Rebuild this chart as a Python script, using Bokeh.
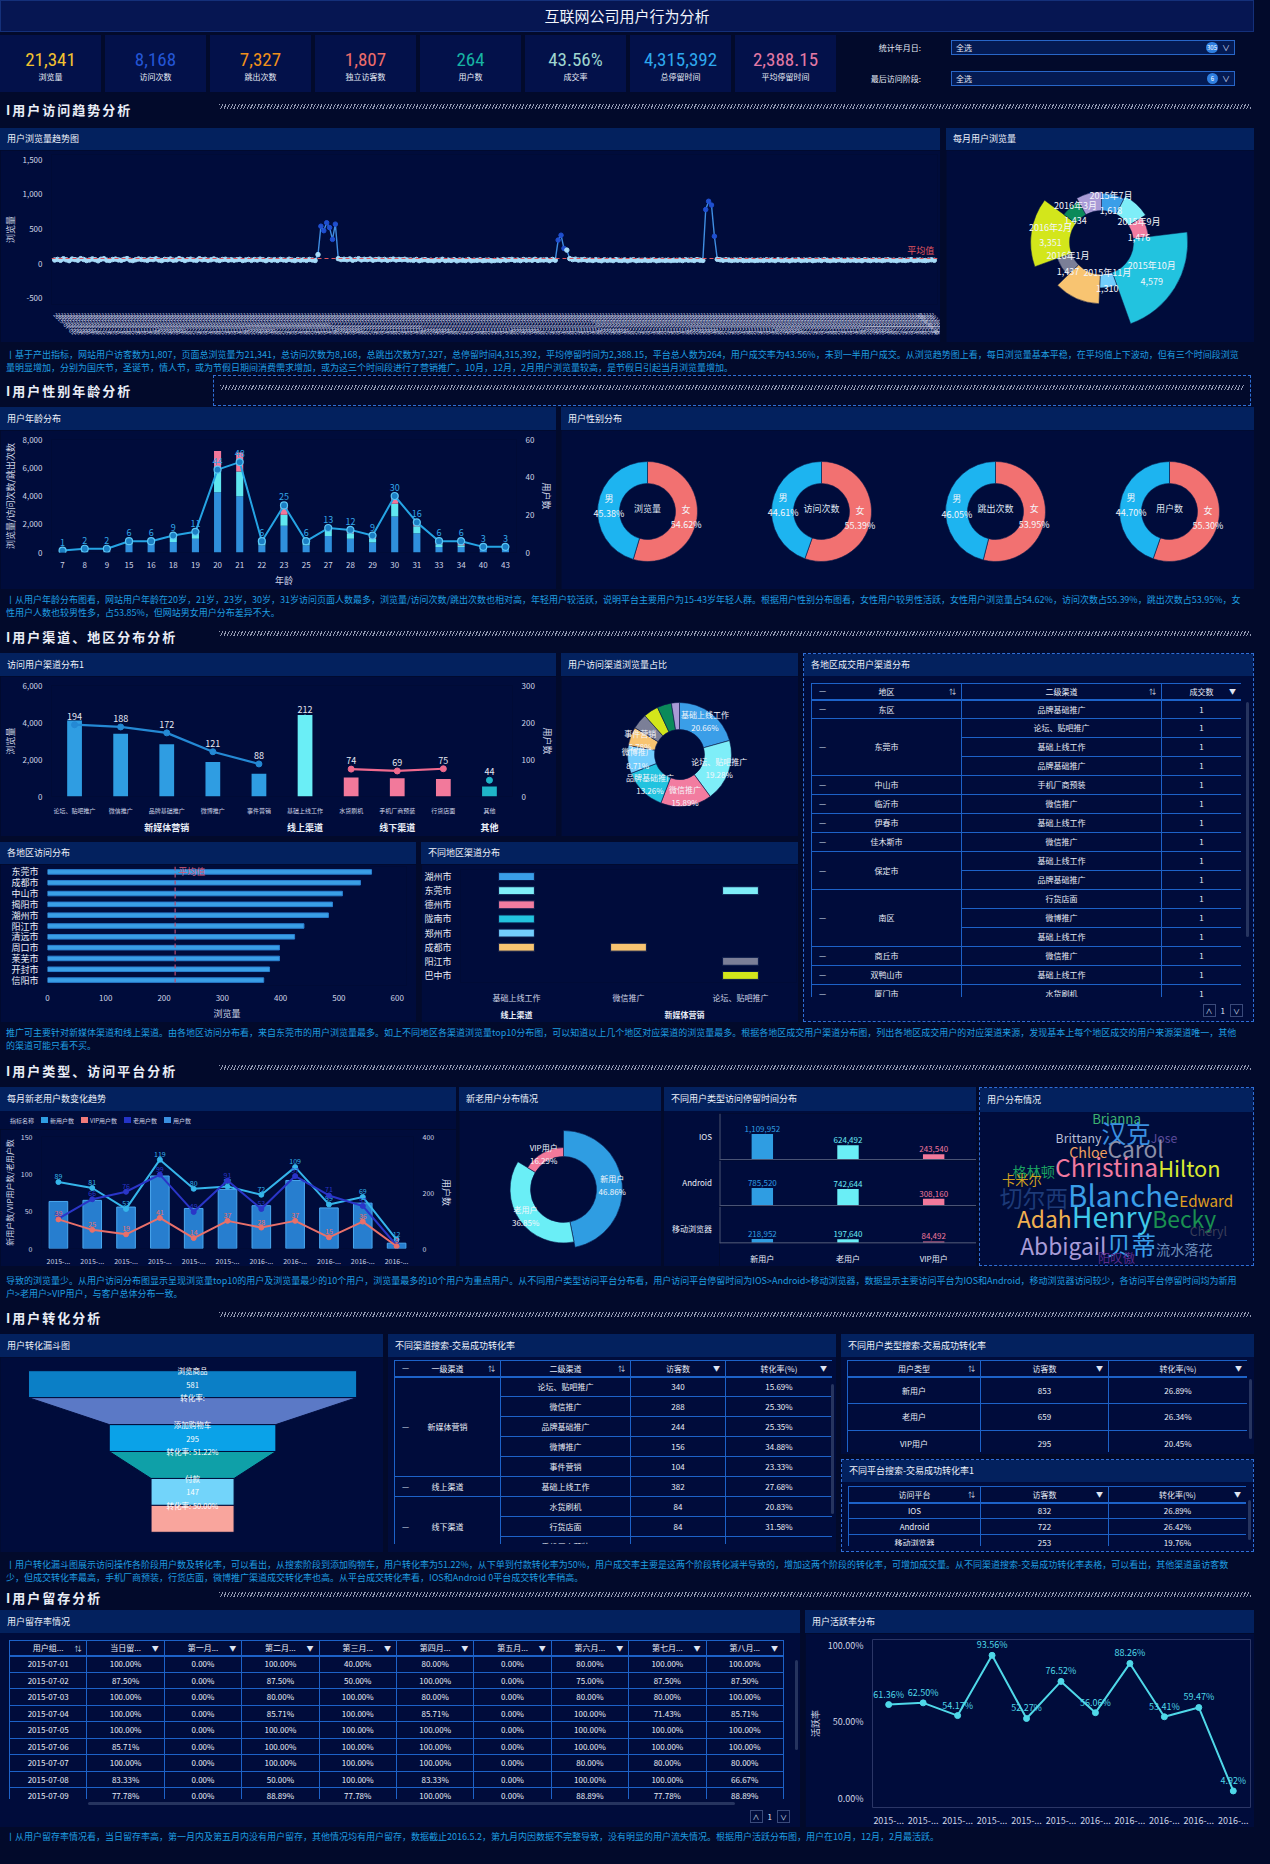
import math
import pandas as pd
from bokeh.plotting import figure
from bokeh.models import (ColumnDataSource, Range1d, FactorRange, LinearAxis, Span,
                          FixedTicker, NumeralTickFormatter, PrintfTickFormatter, Div, Spacer)
from bokeh.models.axes import Axis
from bokeh.layouts import row, column
from bokeh.core.properties import value
from bokeh.embed import file_html
from bokeh.resources import INLINE

# ====================== DATA ======================
dashboard_title = "互联网公司用户行为分析"
kpi_values = ["21,341", "8,168", "7,327", "1,807", "264", "43.56%", "4,315,392", "2,388.15"]
kpi_labels = ["浏览量", "访问次数", "跳出次数", "独立访客数", "用户数", "成交率", "总停留时间", "平均停留时间"]
filter_labels = ["统计年月日:", "最后访问阶段:"]
filter_values = ["全选", "全选"]
filter_counts = ["305", "6"]

section_titles = ["I用户访问趋势分析", "I用户性别年龄分析", "I用户渠道、地区分布分析",
                  "I用户类型、访问平台分析", "I用户转化分析", "I用户留存分析"]

# daily page views (2015-07-01 .. 2016-04-30)
pv_2015_07 = [52, 61, 48, 70, 55, 43, 66, 58, 49, 72, 60, 45, 53, 68, 57, 41, 63, 71, 50, 46, 59, 65, 54, 48, 62, 73, 51, 44, 56, 67, 60]
pv_2015_08 = [55, 47, 63, 58, 69, 52, 44, 61, 57, 66, 49, 53, 72, 60, 45, 58, 64, 51, 47, 70, 56, 62, 48, 55, 67, 53, 46, 59, 63, 50, 57]
pv_2015_09 = [49, 56, 62, 45, 53, 60, 47, 58, 51, 64, 55, 43, 59, 50, 57, 46, 61, 54, 48, 63, 52, 44, 58, 49, 56, 47, 60, 53, 45, 130]
pv_2015_10 = [540, 475, 590, 520, 350, 570, 72, 58, 63, 55, 67, 49, 60, 71, 54, 62, 57, 66, 50, 59, 64, 53, 61, 48, 58, 65, 52, 60, 56, 63, 51]
pv_2015_11 = [54, 47, 60, 43, 52, 58, 45, 50, 41, 55, 48, 62, 44, 51, 46, 57, 40, 53, 49, 45, 58, 42, 50, 47, 55, 43, 49, 52, 41, 46]
pv_2015_12 = [52, 45, 58, 49, 55, 61, 47, 53, 44, 59, 50, 56, 48, 62, 46, 54, 51, 57, 43, 60, 49, 340, 410, 220, 195, 72, 58, 64, 51, 55, 60]
pv_2016_01 = [48, 53, 45, 57, 50, 42, 55, 47, 52, 44, 58, 49, 46, 54, 41, 51, 56, 43, 50, 47, 53, 45, 49, 55, 42, 48, 52, 46, 51, 44, 50]
pv_2016_02 = [47, 52, 44, 56, 49, 53, 45, 58, 50, 46, 780, 900, 845, 395, 62, 55, 48, 57, 51, 46, 53, 49, 56, 44, 50, 47, 52, 45, 49]
pv_2016_03 = [51, 46, 55, 48, 53, 44, 57, 50, 47, 54, 42, 52, 49, 56, 45, 51, 48, 55, 43, 50, 53, 46, 58, 49, 44, 52, 47, 55, 50, 45, 53]
pv_2016_04 = [49, 54, 46, 52, 43, 57, 50, 45, 55, 48, 53, 44, 51, 56, 47, 50, 42, 54, 49, 46, 52, 58, 45, 50, 53, 47, 44, 51, 55, 48]
trend_pv = (pv_2015_07 + pv_2015_08 + pv_2015_09 + pv_2015_10 + pv_2015_11 + pv_2015_12
            + pv_2016_01 + pv_2016_02 + pv_2016_03 + pv_2016_04)
trend_dates = pd.date_range("2015-07-01", periods=len(trend_pv), freq="D").strftime("%Y-%m-%d").tolist()

rose_months = ["2015年7月", "2015年8月", "2015年9月", "2015年10月", "2015年11月", "2015年12月",
               "2016年1月", "2016年2月", "2016年3月", "2016年4月"]
rose_pv = [1618, 1826, 1476, 4579, 1310, 2579, 1437, 3351, 1434, 1731]
rose_labeled = ["2015年7月", "2015年9月", "2015年10月", "2015年11月", "2016年1月", "2016年2月", "2016年3月"]

ages = ["7", "8", "9", "15", "16", "18", "19", "20", "21", "22", "23", "25", "27", "28", "29", "30", "31", "33", "34", "40", "43"]
age_pv = [30, 60, 55, 560, 740, 740, 975, 4270, 3990, 510, 1900, 510, 1160, 975, 700, 2550, 1370, 395, 395, 230, 210]
age_visits = [10, 20, 22, 140, 100, 280, 350, 1510, 1740, 160, 765, 160, 460, 395, 280, 900, 490, 185, 115, 60, 50]
age_bounce = [8, 15, 18, 50, 40, 90, 115, 1410, 1350, 70, 580, 70, 210, 115, 140, 650, 230, 70, 115, 30, 20]
age_users = [1, 2, 2, 6, 6, 9, 11, 44, 48, 6, 25, 6, 13, 12, 9, 30, 16, 6, 6, 3, 3]

gender_metrics = ["浏览量", "访问次数", "跳出次数", "用户数"]
male_pct = [45.38, 44.61, 46.05, 44.70]
female_pct = [54.62, 55.39, 53.95, 55.30]

ch_groups = ["新媒体营销", "新媒体营销", "新媒体营销", "新媒体营销", "新媒体营销", "线上渠道", "线下渠道", "线下渠道", "线下渠道", "其他"]
ch_names = ["论坛、贴吧推广", "微信推广", "品牌基础推广", "微博推广", "事件营销", "基础上线工作", "水货刷机", "手机厂商预装", "行货店面", "其他"]
ch_pv = [4114, 3391, 2830, 1859, 1234, 4409, 1030, 990, 950, 534]
ch_users = [194, 188, 172, 121, 88, 212, 74, 69, 75, 44]

chpie_names = ["基础上线工作", "论坛、贴吧推广", "微信推广", "品牌基础推广", "微博推广", "事件营销", "水货刷机", "手机厂商预装", "行货店面", "其他"]
chpie_pct = [20.66, 19.28, 15.89, 13.26, 8.71, 5.78, 4.83, 4.64, 4.45, 2.50]
chpie_labeled = ["基础上线工作", "论坛、贴吧推广", "微信推广", "品牌基础推广", "微博推广", "事件营销"]

cities = ["东莞市", "成都市", "中山市", "揭阳市", "潮州市", "阳江市", "清远市", "周口市", "莱芜市", "开封市", "信阳市"]
city_pv = [556, 537, 506, 489, 482, 440, 424, 398, 398, 381, 371]
city_avg = 219

rc_cities = ["湖州市", "东莞市", "德州市", "陇南市", "郑州市", "成都市", "阳江市", "巴中市"]
rc_channel_order = ["基础上线工作", "微信推广", "论坛、贴吧推广"]
rc_channel_group = {"基础上线工作": "线上渠道", "微信推广": "新媒体营销", "论坛、贴吧推广": "新媒体营销"}
rc_cell_city = ["湖州市", "东莞市", "东莞市", "德州市", "陇南市", "郑州市", "成都市", "成都市", "阳江市", "巴中市"]
rc_cell_channel = ["基础上线工作", "基础上线工作", "论坛、贴吧推广", "基础上线工作", "基础上线工作",
                   "基础上线工作", "基础上线工作", "微信推广", "论坛、贴吧推广", "论坛、贴吧推广"]

regions = ["东区", "东莞市", "中山市", "临沂市", "伊春市", "佳木斯市", "保定市", "南区", "商丘市", "双鸭山市", "厦门市"]
region_channels = [["品牌基础推广"], ["论坛、贴吧推广", "基础上线工作", "品牌基础推广"], ["手机厂商预装"], ["微信推广"],
                   ["基础上线工作"], ["微信推广"], ["基础上线工作", "品牌基础推广"], ["行货店面", "微博推广", "基础上线工作"],
                   ["微信推广"], ["基础上线工作"], ["水货刷机"]]
region_deals = [[1], [1, 1, 1], [1], [1], [1], [1], [1, 1], [1, 1, 1], [1], [1], [1]]

months = ["2015-07", "2015-08", "2015-09", "2015-10", "2015-11", "2015-12", "2016-01", "2016-02", "2016-03", "2016-04", "2016-05"]
new_users = [89, 81, 53, 119, 80, 83, 72, 109, 59, 69, 12]
old_users = [40, 66, 76, 99, 49, 91, 53, 97, 71, 57, 4]
vip_users = [39, 25, 19, 41, 14, 37, 28, 37, 15, 36, 3]
all_users = [168, 172, 148, 259, 143, 211, 153, 243, 145, 162, 19]

no_types = ["新用户", "老用户", "VIP用户"]
no_pct = [46.86, 36.85, 16.29]

plat_names = ["IOS", "Android", "移动浏览器"]
plat_types = ["新用户", "老用户", "VIP用户"]
plat_stay = [[1109952, 624492, 243540], [785520, 742644, 308160], [218952, 197640, 84492]]

wc_words = ["Brianna", "Brittany", "汉克", "Jose", "Chloe", "Carol", "格林顿", "Christina", "Hilton", "卡米尔",
            "切尔西", "Blanche", "Edward", "Adah", "Henry", "Becky", "Cheryl", "Abbigail", "贝蒂", "流水落花", "阳叹傲"]
wc_weights = [14, 13, 26, 13, 15, 24, 15, 26, 23, 14, 24, 31, 16, 24, 30, 24, 13, 24, 26, 15, 13]

funnel_stages = ["浏览商品", "添加购物车", "付款"]
funnel_values = [581, 295, 147]
funnel_rates = ["", "51.22%", "50.00%"]

conv_l1 = ["新媒体营销", "线上渠道", "线下渠道"]
conv_l2 = [["论坛、贴吧推广", "微信推广", "品牌基础推广", "微博推广", "事件营销"], ["基础上线工作"], ["水货刷机", "行货店面", "手机厂商预装"]]
conv_visitors = [[340, 288, 244, 156, 104], [382], [84, 84, 69]]
conv_rate = [[15.69, 25.30, 25.35, 34.88, 23.33], [27.68], [20.83, 31.58, 33.33]]

ut_types = ["新用户", "老用户", "VIP用户"]
ut_visitors = [853, 659, 295]
ut_rate = [26.89, 26.34, 20.45]

pf_names = ["IOS", "Android", "移动浏览器"]
pf_visitors = [832, 722, 253]
pf_rate = [26.89, 26.42, 19.76]

ret_headers = ["用户组...", "当日留...", "第一月...", "第二月...", "第三月...", "第四月...", "第五月...", "第六月...", "第七月...", "第八月..."]
ret_cohorts = ["2015-07-01", "2015-07-02", "2015-07-03", "2015-07-04", "2015-07-05", "2015-07-06", "2015-07-07", "2015-07-08", "2015-07-09"]
ret_day0 = [100.0, 87.5, 100.0, 100.0, 100.0, 85.71, 100.0, 83.33, 77.78]
ret_m1 = [0.0, 0.0, 0.0, 0.0, 0.0, 0.0, 0.0, 0.0, 0.0]
ret_m2 = [100.0, 87.5, 80.0, 85.71, 100.0, 100.0, 100.0, 50.0, 88.89]
ret_m3 = [40.0, 50.0, 100.0, 100.0, 100.0, 100.0, 100.0, 100.0, 77.78]
ret_m4 = [80.0, 100.0, 80.0, 85.71, 100.0, 100.0, 100.0, 83.33, 100.0]
ret_m5 = [0.0, 0.0, 0.0, 0.0, 0.0, 0.0, 0.0, 0.0, 0.0]
ret_m6 = [80.0, 75.0, 80.0, 100.0, 100.0, 100.0, 80.0, 100.0, 88.89]
ret_m7 = [100.0, 87.5, 80.0, 71.43, 100.0, 100.0, 80.0, 100.0, 77.78]
ret_m8 = [100.0, 87.5, 100.0, 85.71, 100.0, 100.0, 80.0, 66.67, 88.89]

act_months = months
act_rate = [61.36, 62.50, 54.17, 93.56, 52.27, 76.52, 56.06, 88.26, 53.41, 59.47, 4.92]

desc_texts = [
    "丨基于产出指标，网站用户访客数为1,807，页面总浏览量为21,341，总访问次数为8,168，总跳出次数为7,327，总停留时间4,315,392，平均停留时间为2,388.15，平台总人数为264，用户成交率为43.56%，未到一半用户成交。从浏览趋势图上看，每日浏览量基本平稳，在平均值上下波动，但有三个时间段浏览量明显增加，分别为国庆节，圣诞节，情人节，或为节假日期间消费需求增加，或为这三个时间段进行了营销推广。10月，12月，2月用户浏览量较高，是节假日引起当月浏览量增加。",
    "丨从用户年龄分布图看，网站用户年龄在20岁，21岁，23岁，30岁，31岁访问页面人数最多，浏览量/访问次数/跳出次数也相对高，年轻用户较活跃，说明平台主要用户为15-43岁年轻人群。根据用户性别分布图看，女性用户较男性活跃，女性用户浏览量占54.62%，访问次数占55.39%，跳出次数占53.95%，女性用户人数也较男性多，占53.85%，但网站男女用户分布差异不大。",
    "推广可主要针对新媒体渠道和线上渠道。由各地区访问分布看，来自东莞市的用户浏览量最多。如上不同地区各渠道浏览量top10分布图，可以知道以上几个地区对应渠道的浏览量最多。根据各地区成交用户渠道分布图，列出各地区成交用户的对应渠道来源，发现基本上每个地区成交的用户来源渠道唯一，其他的渠道可能只看不买。",
    "导致的浏览量少。从用户访问分布图显示呈现浏览量top10的用户及浏览量最少的10个用户，浏览量最多的10个用户为重点用户。从不同用户类型访问平台分布看，用户访问平台停留时间为IOS>Android>移动浏览器，数据显示主要访问平台为IOS和Android，移动浏览器访问较少，各访问平台停留时间均为新用户>老用户>VIP用户，与客户总体分布一致。",
    "丨用户转化漏斗图展示访问操作各阶段用户数及转化率，可以看出，从搜索阶段到添加购物车，用户转化率为51.22%，从下单到付款转化率为50%，用户成交率主要是这两个阶段转化减半导致的，增加这两个阶段的转化率，可增加成交量。从不同渠道搜索-交易成功转化率表格，可以看出，其他渠道虽访客数少，但成交转化率最高，手机厂商预装，行货店面，微博推广渠道成交转化率也高。从平台成交转化率看，IOS和Android 0平台成交转化率稍高。",
    "丨从用户留存率情况看，当日留存率高，第一月内及第五月内没有用户留存，其他情况均有用户留存，数据截止2016.5.2，第九月内因数据不完整导致，没有明显的用户流失情况。根据用户活跃分布图，用户在10月，12月，2月最活跃。",
]

# ====================== STYLE ======================
FONT = "Noto Sans CJK SC"
FF = "font-family:'Noto Sans CJK SC'"
NFF = "font-family:'Liberation Sans Narrow','Roboto Condensed','Roboto',sans-serif"
PAGE_BG = "#020a2b"
BODY_BG = "#000c3b"
HEAD_BG = "#03215e"
KPI_BG = "#03114a"
TXT = "#e8edf7"
AXT = "#cfd5e6"
DESC_C = "#1f9ee0"
PALETTE = ["#3a9ee8", "#7eeef8", "#f27ca0", "#22c3df", "#72cdfd", "#f8c471", "#7b7f97", "#d3e61b", "#0b8a5a", "#a99bd6"]
KPI_COLORS = ["#f2c230", "#2456d6", "#f0901a", "#ee6d6a", "#17b3a3", "#9fd6cf", "#2ea8ee", "#e47aa6"]
WC_COLORS = ["#3cb371", "#b9bfd6", "#3a8fe0", "#5a4a9a", "#f0a060", "#8a8fa8", "#1aa060", "#f07aa0", "#d8e830", "#d0a020",
             "#1d3a78", "#3a9ee8", "#e0a020", "#f0b050", "#40c8e8", "#1a9050", "#3a3f5a", "#a89cd8", "#3a9ee8", "#6a8ab8", "#5a2a8a"]
W = 1254


def esc(s):
    return s.replace("&", "&amp;").replace("<", "&lt;").replace(">", "&gt;")


def mkdiv(html, w, h, bg=None):
    st = {"overflow": "hidden"}
    if bg:
        st["background-color"] = bg
    return Div(text=html, width=w, height=h, styles=st, margin=0)


def head(title, w, h):
    return mkdiv(f'<div style="height:{h}px;line-height:{h}px;padding-left:7px;color:#eef2fa;font-size:9px;{FF};white-space:nowrap">{title}</div>', w, h, HEAD_BG)


def mkfig(w, h, **kw):
    opts = dict(width=w, height=h, output_backend="svg", toolbar_location=None,
                background_fill_color=BODY_BG, border_fill_color=BODY_BG, outline_line_color=None,
                min_border_left=0, min_border_right=0, min_border_top=0, min_border_bottom=0)
    opts.update(kw)
    p = figure(**opts)
    p.grid.visible = False
    return p


def style_axes(p, size="8px"):
    for ax in list(p.left) + list(p.right) + list(p.below) + list(p.above):
        if not isinstance(ax, Axis):
            continue
        ax.axis_line_color = None
        ax.major_tick_line_color = None
        ax.minor_tick_line_color = None
        ax.major_label_text_color = AXT
        ax.major_label_text_font_size = size
        ax.major_label_text_font = FONT
        ax.major_label_standoff = 3
        ax.axis_label_text_color = AXT
        ax.axis_label_text_font_size = "9px"
        ax.axis_label_text_font = FONT
        ax.axis_label_text_font_style = "normal"
        ax.axis_label_standoff = 3


def txt(p, **kw):
    base = dict(text_font=value(FONT), text_font_size="8px", text_color=TXT,
                text_align="center", text_baseline="middle")
    base.update(kw)
    return p.text(**base)


def section(title, h, dashed=False):
    mid = h // 2
    hb = "repeating-linear-gradient(115deg,#9097b0 0px,#9097b0 1px,rgba(0,0,0,0) 1px,rgba(0,0,0,0) 3px)"
    if dashed:
        deco = (f'<div style="position:absolute;left:213px;right:3px;top:1px;bottom:1px;border:1px dashed #2f6fd6">'
                f'<div style="position:absolute;left:6px;right:6px;top:{mid - 7}px;height:5px;background:{hb}"></div></div>')
    else:
        deco = f'<div style="position:absolute;left:219px;right:3px;top:{mid - 6}px;height:5px;background:{hb}"></div>'
    html = (f'<div style="position:relative;width:{W}px;height:{h}px">'
            f'<div style="position:absolute;left:6px;top:0;line-height:{h}px;{FF};font-size:13px;font-weight:bold;letter-spacing:2px;color:#e9edf6;white-space:nowrap">{title}</div>'
            f'{deco}</div>')
    return mkdiv(html, W, h)


def desc(text, h, pad):
    html = f'<div style="padding:{pad}px 12px 0 6px;{FF};font-size:9px;line-height:13px;color:{DESC_C}">{esc(text)}</div>'
    return mkdiv(html, W, h)


def panel_div(title, inner, w, h, head_h=23, dashed=False):
    border = "border:1px dashed #2f6fd6;" if dashed else ""
    html = (f'<div style="box-sizing:border-box;position:relative;width:{w}px;height:{h}px;background:{BODY_BG};{border}{FF}">'
            f'<div style="height:{head_h}px;line-height:{head_h}px;background:{HEAD_BG};color:#eef2fa;font-size:9px;padding-left:7px;white-space:nowrap">{title}</div>'
            f'{inner}</div>')
    return mkdiv(html, w, h)


TCSS = ('<style>.t{border-collapse:collapse;table-layout:fixed;' + FF + ';font-size:8px;color:#e8edf7}'
        '.t td,.t th{border:1px solid #1d62c8;text-align:center;padding:0;white-space:nowrap;overflow:hidden;font-weight:normal;position:relative}'
        '.t th{border-bottom:2px solid #1d62c8}'
        '.ic{position:absolute;right:5px;top:50%;transform:translateY(-50%);font-size:7px;color:#dfe5f3}'
        '.mn{position:absolute;left:7px;top:50%;transform:translateY(-50%);color:#dfe5f3;font-size:8px}</style>')

BOXSTYLE = 'display:inline-block;width:13px;height:13px;border:1px solid #3a4a7a;text-align:center;line-height:12px;font-size:7px'
PAGER = (f'<div style="position:absolute;right:10px;bottom:4px;display:flex;align-items:center;gap:5px;font-size:8px;color:#dfe5f3">'
         f'<span style="{BOXSTYLE}">∧</span>1<span style="{BOXSTYLE}">∨</span></div>')


def vscroll(right, top, h):
    return f'<div style="position:absolute;right:{right}px;top:{top}px;width:3px;height:{h}px;border-radius:2px;background:#26345f"></div>'


def colgroup(widths):
    return '<colgroup>' + ''.join(f'<col style="width:{w}px">' for w in widths) + '</colgroup>'


# ====================== HEADER ======================
title_div = mkdiv(f'<div style="box-sizing:border-box;width:{W}px;height:32px;line-height:30px;text-align:center;background:#061652;border:1px solid #14307a;color:#f2f5fb;{FF};font-size:15px">{dashboard_title}</div>', W, 32)

kpi_divs = []
for v, l, c in zip(kpi_values, kpi_labels, KPI_COLORS):
    kpi_divs.append(mkdiv(
        f'<div style="width:101px;height:57px;text-align:center;background:{KPI_BG}">'
        f'<div style="padding-top:14px;{NFF};font-size:19px;line-height:22px;color:{c}">{v}</div>'
        f'<div style="{FF};font-size:8px;line-height:12px;color:{TXT}">{l}</div></div>', 101, 57))

fparts = []
for i, (lab, val, cnt) in enumerate(zip(filter_labels, filter_values, filter_counts)):
    top = 5 + i * 31
    fparts.append(
        f'<div style="position:absolute;left:0;top:{top}px;width:81px;height:15px;line-height:15px;text-align:right;font-size:8px;color:{TXT}">{lab}</div>'
        f'<div style="position:absolute;left:111px;top:{top}px;width:284px;height:15px;box-sizing:border-box;border:1px solid #2866c8;background:#041a52;line-height:13px;font-size:8px;color:{TXT};padding-left:4px">{val}'
        f'<span style="position:absolute;right:16px;top:1px;min-width:11px;height:11px;border-radius:6px;background:#2f7fe0;color:#fff;font-size:6px;line-height:11px;text-align:center;padding:0 1px">{cnt}</span>'
        f'<span style="position:absolute;right:4px;top:0;font-size:8px;color:#cfd8ee">∨</span></div>')
filter_w = W - 8 * 101 - 8 * 4
filter_div = mkdiv(f'<div style="position:relative;width:{filter_w}px;height:57px;{FF}">' + ''.join(fparts) + '</div>', filter_w, 57)
kpi_row = row(*kpi_divs, filter_div, spacing=4)

# ====================== ROW 1 ======================
trend_avg = sum(trend_pv) / len(trend_pv)
tsrc = ColumnDataSource(dict(d=trend_dates, v=trend_pv, c=["#1f4fd0" if v > 200 else "#a6dbf8" for v in trend_pv]))
tp = mkfig(940, 192, x_range=FactorRange(factors=trend_dates, range_padding=0.004), y_range=Range1d(-590, 1575),
           min_border_left=45, min_border_right=3, min_border_top=4, min_border_bottom=38)
tp.line("d", "v", source=tsrc, line_color="#3f8ee2", line_width=1.4)
tp.scatter("d", "v", source=tsrc, size=4.5, fill_color="c", line_color="c")
tp.add_layout(Span(location=trend_avg, dimension="width", line_color="#e0575f", line_dash="4 3", line_width=1.2))
txt(tp, x=[trend_dates[-1]], y=[trend_avg], text=["平均值"], text_color="#e0575f", text_align="right",
    text_baseline="bottom", text_font_size="9px", y_offset=-1)
tp.yaxis.ticker = FixedTicker(ticks=[-500, 0, 500, 1000, 1500])
tp.yaxis.formatter = NumeralTickFormatter(format="0,0")
tp.yaxis.axis_label = "浏览量"
style_axes(tp)
tp.xaxis.major_label_orientation = -math.pi / 4
tp.xaxis.major_label_text_font_size = "5.5px"
tp.xaxis.major_label_text_color = "#c8cde0"

rp = mkfig(308, 192, x_range=Range1d(-155, 153), y_range=Range1d(-100, 92), x_axis_location=None, y_axis_location=None)
tot = float(sum(rose_pv))
cum = 0.0
r_a0, r_a1, r_out, r_col, lx, ly, lt = [], [], [], [], [], [], []
for i, (m, v) in enumerate(zip(rose_months, rose_pv)):
    a1 = math.pi / 2 - 2 * math.pi * cum / tot
    a0 = math.pi / 2 - 2 * math.pi * (cum + v) / tot
    cum += v
    ro = 29 + 0.0125 * v
    r_a0.append(a0); r_a1.append(a1); r_out.append(ro); r_col.append(PALETTE[i % len(PALETTE)])
    if m in rose_labeled:
        mid = (a0 + a1) / 2
        rr = (32 + ro) / 2
        lx.append(rr * math.cos(mid)); ly.append(rr * math.sin(mid)); lt.append(f"{m}\n{v:,}")
rp.annular_wedge(x=0, y=0, inner_radius=32, outer_radius="r", start_angle="a0", end_angle="a1",
                 fill_color="c", line_color="#0a1a4a", line_width=0.5,
                 source=ColumnDataSource(dict(r=r_out, a0=r_a0, a1=r_a1, c=r_col)))
txt(rp, x=lx, y=ly, text=lt, text_font_size="9px", text_color="#f4f6fb")

row1 = row(column(head("用户浏览量趋势图", 940, 22), tp), column(head("每月用户浏览量", 308, 22), rp), spacing=6)

# ====================== ROW 2 ======================
asrc = ColumnDataSource(dict(age=ages, pv=age_pv, visits=age_visits, bounce=age_bounce, users=age_users,
                             ut=[str(u) for u in age_users]))
ap = mkfig(556, 159, x_range=FactorRange(factors=ages), y_range=Range1d(0, 8000),
           min_border_left=44, min_border_right=29, min_border_top=9, min_border_bottom=35)
ap.extra_y_ranges = {"u": Range1d(0, 60)}
ap.add_layout(LinearAxis(y_range_name="u", axis_label="用户数", ticker=FixedTicker(ticks=[0, 20, 40, 60])), "right")
ap.vbar_stack(["pv", "visits", "bounce"], x="age", width=0.32, color=["#2f8fdc", "#5fe6f0", "#f2779a"],
              line_color=None, source=asrc)
ap.line("age", "users", source=asrc, y_range_name="u", line_color="#25a4e4", line_width=2)
ap.scatter("age", "users", source=asrc, y_range_name="u", size=7, fill_color="#1b7fc4", line_color="#5cc6f5", line_width=1.2)
txt(ap, x="age", y="users", text="ut", source=asrc, y_range_name="u", text_color="#33a7e8",
    text_baseline="bottom", y_offset=-5, text_font_size="9px")
ap.yaxis[0].ticker = FixedTicker(ticks=[0, 2000, 4000, 6000, 8000])
ap.yaxis[0].formatter = NumeralTickFormatter(format="0,0")
ap.yaxis[0].axis_label = "浏览量/访问次数/跳出次数"
ap.xaxis.axis_label = "年龄"
style_axes(ap)

gp = mkfig(693, 159, x_range=Range1d(0, 693), y_range=Range1d(0, 159), x_axis_location=None, y_axis_location=None)
for i, (mname, mp, fp) in enumerate(zip(gender_metrics, male_pct, female_pct)):
    cx, cy = 86 + i * 174, 78
    f_start = math.pi / 2 - 2 * math.pi * fp / 100.0
    f_end = math.pi / 2
    m_start = f_start - 2 * math.pi * mp / 100.0
    gp.annular_wedge(x=[cx, cx], y=[cy, cy], inner_radius=28, outer_radius=50,
                     start_angle=[f_start, m_start], end_angle=[f_end, f_start],
                     fill_color=["#f27171", "#1db4f0"], line_color="#0a1a4a", line_width=0.6)
    fm = (f_start + f_end) / 2
    mm = (m_start + f_start) / 2
    txt(gp, x=[cx + 39 * math.cos(fm), cx + 39 * math.cos(mm)], y=[cy + 39 * math.sin(fm), cy + 39 * math.sin(mm)],
        text=[f"女\n{fp:.2f}%", f"男\n{mp:.2f}%"], text_font_size="9px", text_color="#f4f6fb")
    txt(gp, x=[cx], y=[cy + 3], text=[mname], text_font_size="9px", text_color="#dfe4f0")

row2 = row(column(head("用户年龄分布", 556, 23), ap), column(head("用户性别分布", 693, 23), gp), spacing=5)

# ====================== ROW 3 ======================
ch_factors = list(zip(ch_groups, ch_names))
grp_color = {"新媒体营销": "#2f9de2", "线上渠道": "#6aeef6", "线下渠道": "#f2799b", "其他": "#1fb5c8"}
grp_line = {"新媒体营销": "#2489d4", "线上渠道": "#6aeef6", "线下渠道": "#f06a8e", "其他": "#1fb5c8"}
cp = mkfig(556, 160, x_range=FactorRange(factors=ch_factors, group_padding=0, factor_padding=0, subgroup_padding=0, range_padding=0),
           y_range=Range1d(0, 6000), min_border_left=44, min_border_right=32, min_border_top=9, min_border_bottom=31)
cp.extra_y_ranges = {"u": Range1d(0, 300)}
cp.add_layout(LinearAxis(y_range_name="u", axis_label="用户数", ticker=FixedTicker(ticks=[0, 100, 200, 300])), "right")
csrc = ColumnDataSource(dict(x=ch_factors, pv=ch_pv, u=ch_users, ut=[str(u) for u in ch_users],
                             c=[grp_color[g] for g in ch_groups], lc=[grp_line[g] for g in ch_groups]))
cp.vbar(x="x", top="pv", width=0.32, fill_color="c", line_color=None, source=csrc)
for g in dict.fromkeys(ch_groups):
    idx = [i for i, gg in enumerate(ch_groups) if gg == g]
    if len(idx) > 1:
        cp.line(x=[ch_factors[i] for i in idx], y=[ch_users[i] for i in idx], y_range_name="u",
                line_color=grp_line[g], line_width=2.2)
cp.scatter("x", "u", source=csrc, y_range_name="u", size=6, fill_color="lc", line_color="lc")
txt(cp, x="x", y="u", text="ut", source=csrc, y_range_name="u", text_baseline="bottom", y_offset=-5,
    text_font_size="9px", text_color="#e6e9f2")
cp.yaxis[0].ticker = FixedTicker(ticks=[0, 2000, 4000, 6000])
cp.yaxis[0].formatter = NumeralTickFormatter(format="0,0")
cp.yaxis[0].axis_label = "浏览量"
style_axes(cp)
cp.xaxis.major_label_text_font_size = "6px"
cp.xaxis.group_text_font_size = "9px"
cp.xaxis.group_text_color = TXT
cp.xaxis.group_text_font = FONT
cp.xaxis.separator_line_color = None

chp = mkfig(237, 160, x_range=Range1d(-118, 119), y_range=Range1d(-82, 78), x_axis_location=None, y_axis_location=None)
cum = 0.0
c_a0, c_a1, c_col, clx, cly, clt = [], [], [], [], [], []
for i, (n, pct) in enumerate(zip(chpie_names, chpie_pct)):
    a1 = math.pi / 2 - 2 * math.pi * cum / 100.0
    a0 = math.pi / 2 - 2 * math.pi * (cum + pct) / 100.0
    cum += pct
    c_a0.append(a0); c_a1.append(a1); c_col.append(PALETTE[i % len(PALETTE)])
    if n in chpie_labeled:
        mid = (a0 + a1) / 2
        clx.append(42 * math.cos(mid)); cly.append(42 * math.sin(mid)); clt.append(f"{n}\n{pct:.2f}%")
chp.annular_wedge(x=0, y=0, inner_radius=25, outer_radius=52, start_angle=c_a0, end_angle=c_a1,
                  fill_color=c_col, line_color="#0a1a4a", line_width=0.6)
txt(chp, x=clx, y=cly, text=clt, text_font_size="8px", text_color="#f4f6fb")

cb = mkfig(416, 158, x_range=Range1d(0, 616), y_range=FactorRange(factors=cities[::-1]),
           min_border_left=47, min_border_right=10, min_border_top=2, min_border_bottom=25)
cb.hbar(y=cities, right=city_pv, height=0.42, fill_color="#3a9fe6", line_color="#2a7fd0")
cb.add_layout(Span(location=city_avg, dimension="height", line_color="#b84a6e", line_dash="4 3", line_width=1.2))
txt(cb, x=[city_avg], y=[cities[0]], text=["平均值"], text_color="#d05a7a", text_align="left", x_offset=3,
    text_font_size="9px")
cb.xaxis.ticker = FixedTicker(ticks=[0, 100, 200, 300, 400, 500, 600])
cb.xaxis.axis_label = "浏览量"
style_axes(cb)
cb.yaxis.major_label_text_font_size = "9px"
cb.yaxis.major_label_text_color = TXT

rc_factors = [(rc_channel_group[c], c) for c in rc_channel_order]
rcp = mkfig(377, 158, x_range=FactorRange(factors=rc_factors, group_padding=0, factor_padding=0, range_padding=0),
            y_range=FactorRange(factors=rc_cities[::-1]),
            min_border_left=36, min_border_right=2, min_border_top=5, min_border_bottom=27)
rcp.rect(x=[(rc_channel_group[c], c) for c in rc_cell_channel], y=rc_cell_city, width=0.32, height=0.56,
         fill_color=[PALETTE[rc_cities.index(c)] for c in rc_cell_city], line_color="#0a1a4a")
style_axes(rcp)
rcp.yaxis.major_label_text_font_size = "9px"
rcp.yaxis.major_label_text_color = TXT
rcp.xaxis.group_text_font_size = "8px"
rcp.xaxis.group_text_color = TXT
rcp.xaxis.group_text_font = FONT
rcp.xaxis.separator_line_color = None

# region table
rt = TCSS + '<table class="t" style="width:430px">' + colgroup([150, 200, 80])
rt += '<tr style="height:16px"><th><span class="mn">—</span>地区<span class="ic">⇅</span></th><th>二级渠道<span class="ic">⇅</span></th><th>成交数<span class="ic">▼</span></th></tr>'
for reg, chans, deals in zip(regions, region_channels, region_deals):
    for j, (c, d) in enumerate(zip(chans, deals)):
        rt += '<tr style="height:19px">'
        if j == 0:
            rt += f'<td rowspan="{len(chans)}"><span class="mn">—</span>{reg}</td>'
        rt += f'<td>{c}</td><td>{d}</td></tr>'
rt += '</table>'
region_inner = (f'<div style="position:absolute;left:7px;top:29px;width:430px;height:314px;overflow:hidden">{rt}</div>'
                + vscroll(4, 48, 235) + PAGER)
region_panel = panel_div("各地区成交用户渠道分布", region_inner, 451, 369, head_h=22, dashed=True)

left3 = column(row(column(head("访问用户渠道分布1", 556, 23), cp), column(head("用户访问渠道浏览量占比", 237, 23), chp), spacing=5),
               Spacer(width=798, height=6, margin=0),
               row(column(head("各地区访问分布", 416, 22), cb), column(head("不同地区渠道分布", 377, 22), rcp), spacing=5))
row3 = row(left3, region_panel, spacing=5)

# ====================== ROW 4 ======================
idx = list(range(len(months)))
mov = {i: m[:4] + "-..." for i, m in enumerate(months)}
leg_items = [("新用户数", "#2f9de2"), ("VIP用户数", "#f07a7a"), ("老用户数", "#2434c8"), ("用户数", "#3a8fe0")]
leg_html = f'<div style="{FF};font-size:6px;color:#c9cfe2;padding:6px 0 0 10px;white-space:nowrap">指标名称'
for name, col in leg_items:
    leg_html += f'<span style="display:inline-block;width:7px;height:6px;background:{col};margin:0 2px 0 7px"></span>{name}'
leg_html += '</div>'
mu_leg = mkdiv(leg_html, 456, 18, BODY_BG)
mp_ = mkfig(456, 137, x_range=Range1d(-0.5, len(months) - 0.5), y_range=Range1d(0, 150),
            min_border_left=36, min_border_right=36, min_border_top=7, min_border_bottom=15)
mp_.extra_y_ranges = {"r": Range1d(0, 400)}
mp_.add_layout(LinearAxis(y_range_name="r", axis_label="用户数", ticker=FixedTicker(ticks=[0, 200, 400])), "right")
mp_.vbar(x=idx, top=all_users, width=0.55, y_range_name="r", fill_color="#2b8be0", line_color="#4aa8f0", fill_alpha=0.9)
for series, col in [(new_users, "#35b5ea"), (old_users, "#2a35c8"), (vip_users, "#e8706a")]:
    mp_.line(x=idx, y=series, line_color=col, line_width=2)
    mp_.scatter(x=idx, y=series, size=5, fill_color=col, line_color=col)
    txt(mp_, x=idx, y=series, text=[str(v) for v in series], text_color=col, text_baseline="bottom",
        y_offset=-3, text_font_size="7px")
mp_.yaxis[0].ticker = FixedTicker(ticks=[0, 50, 100, 150])
mp_.yaxis[0].axis_label = "新用户数/VIP用户数/老用户数"
mp_.xaxis.ticker = FixedTicker(ticks=idx)
mp_.xaxis.major_label_overrides = mov
style_axes(mp_, "7px")
mp_.yaxis[0].axis_label_text_font_size = "8px"

nop = mkfig(202, 155, x_range=Range1d(-104, 98), y_range=Range1d(-77, 78), x_axis_location=None, y_axis_location=None)
cum = 0.0
n_a0, n_a1, n_ro, nlx, nly, nlt = [], [], [], [], [], []
for t, pct in zip(no_types, no_pct):
    a1 = math.pi / 2 - 2 * math.pi * cum / 100.0
    a0 = math.pi / 2 - 2 * math.pi * (cum + pct) / 100.0
    cum += pct
    ro = 33 + 26 * pct / max(no_pct)
    n_a0.append(a0); n_a1.append(a1); n_ro.append(ro)
    mid = (a0 + a1) / 2
    rr = (33 + ro) / 2 + 3
    nlx.append(rr * math.cos(mid)); nly.append(rr * math.sin(mid)); nlt.append(f"{t}\n{pct:.2f}%")
nop.annular_wedge(x=0, y=0, inner_radius=33, outer_radius=n_ro, start_angle=n_a0, end_angle=n_a1,
                  fill_color=["#2f9de2", "#6aeef6", "#f2799b"], line_color="#0a1a4a", line_width=0.6)
txt(nop, x=nlx, y=nly, text=nlt, text_font_size="8px", text_color="#f4f6fb")

plat_colors = ["#2f9de2", "#6aeef6", "#f2799b"]


def plat_fig(vals, h, show_x):
    f = mkfig(257, h, x_range=FactorRange(factors=plat_types), y_range=Range1d(-0.03e6, 2.0e6),
              y_axis_location=None, x_axis_location=("below" if show_x else None),
              min_border_bottom=(15 if show_x else 0))
    f.vbar(x=plat_types, top=vals, width=0.25, fill_color=plat_colors, line_color=None)
    txt(f, x=plat_types, y=vals, text=[f"{v:,}" for v in vals], text_color=plat_colors,
        text_baseline="bottom", y_offset=-2, text_font_size="8px")
    f.add_layout(Span(location=0, dimension="width", line_color="#4a5475", line_width=1.5))
    f.add_layout(Span(location=0, dimension="height", line_color="#4a5475", line_width=2))
    style_axes(f)
    if show_x:
        f.xaxis.major_label_text_color = TXT
    return f


def plat_label(name, band_h, total_h):
    return mkdiv(f'<div style="width:55px;height:{band_h}px;line-height:{band_h}px;text-align:right;padding-right:7px;box-sizing:border-box;{FF};font-size:8px;color:{TXT}">{name}</div>', 55, total_h, BODY_BG)


band_h = [47, 46, 45]
plat_rows = [mkdiv('<div style="height:1px;margin-top:1px;background:#4a5475;margin-left:55px"></div>', 312, 2, BODY_BG)]
for k, (nm, vals) in enumerate(zip(plat_names, plat_stay)):
    last = k == len(plat_names) - 1
    hh = band_h[k] + (15 if last else 0)
    plat_rows.append(row(plat_label(nm, band_h[k], hh), plat_fig(vals, hh, last), spacing=0))
plat_body = column(*plat_rows)

wc_lines = [["Brianna"], ["Brittany", "汉克", "Jose"], ["Chloe", "Carol"], ["格林顿", "Christina", "Hilton"], ["卡米尔"],
            ["切尔西", "Blanche", "Edward"], ["Adah", "Henry", "Becky"], ["Cheryl"], ["Abbigail", "贝蒂", "流水落花"], ["阳叹傲"]]
wc_align = ["center", "center", "center", "center", "left", "center", "center", "right", "center", "center"]
wmap = {w: (s, c) for w, s, c in zip(wc_words, wc_weights, WC_COLORS)}
WC_SCALE = 0.95
wc_html = '<div style="padding-top:2px">'
for ln, al in zip(wc_lines, wc_align):
    mx = max(wmap[w][0] for w in ln) * WC_SCALE
    lh = int(mx * 0.74)
    pad = "padding-left:22px;" if al == "left" else ("padding-right:26px;" if al == "right" else "")
    wc_html += f'<div style="text-align:{al};{pad}line-height:{lh}px;height:{lh}px;white-space:nowrap">'
    wc_html += ''.join(f'<span style="font-size:{wmap[w][0] * WC_SCALE:.1f}px;color:{wmap[w][1]}">{w}</span>' for w in ln)
    wc_html += '</div>'
wc_html += '</div>'
wc_panel = panel_div("用户分布情况", wc_html, 275, 179, head_h=24, dashed=True)

row4 = row(column(head("每月新老用户数变化趋势", 456, 24), mu_leg, mp_),
           column(head("新老用户分布情况", 202, 24), nop),
           column(head("不同用户类型访问停留时间分布", 312, 24), plat_body),
           wc_panel, spacing=3)

# ====================== ROW 5 ======================
fn = mkfig(383, 195, x_range=Range1d(-340, 338), y_range=Range1d(-0.75, 6.49), x_axis_location=None, y_axis_location=None)
nstage = len(funnel_values)
tops = [2 * nstage - 2 * i for i in range(nstage)]
stage_cols = ["#0b7fc6", "#0aa2e8", "#72d4fa"]
trap_cols = ["#5b79c6", "#0fa0a8"]
fn.quad(left=[-v / 2 for v in funnel_values], right=[v / 2 for v in funnel_values], top=tops,
        bottom=[t - 1 for t in tops], fill_color=stage_cols, line_color=BODY_BG, line_width=1)
fxs, fys = [], []
for i in range(nstage - 1):
    v0, v1 = funnel_values[i], funnel_values[i + 1]
    fxs.append([-v0 / 2, v0 / 2, v1 / 2, -v1 / 2])
    fys.append([tops[i] - 1, tops[i] - 1, tops[i + 1], tops[i + 1]])
fn.patches(fxs, fys, fill_color=trap_cols, line_color=BODY_BG, line_width=1)
fn.quad(left=[-funnel_values[-1] / 2], right=[funnel_values[-1] / 2], top=[tops[-1] - 1], bottom=[tops[-1] - 2],
        fill_color="#f9a59d", line_color=BODY_BG, line_width=1)
txt(fn, x=[0] * nstage, y=[t - 0.5 for t in tops],
    text=[f"{s}\n{v}\n" + ("转化率: " + r).rstrip() for s, v, r in zip(funnel_stages, funnel_values, funnel_rates)],
    text_font_size="7.5px", text_color="#ffffff")

ct = TCSS + '<table class="t" style="width:438px">' + colgroup([106, 130, 95, 107])
ct += ('<tr style="height:16px"><th><span class="mn">—</span>一级渠道<span class="ic">⇅</span></th>'
       '<th>二级渠道<span class="ic">⇅</span></th><th>访客数<span class="ic">▼</span></th><th>转化率(%)<span class="ic">▼</span></th></tr>')
for l1, l2s, vis, rates in zip(conv_l1, conv_l2, conv_visitors, conv_rate):
    for j, (l2, vv, rr) in enumerate(zip(l2s, vis, rates)):
        ct += '<tr style="height:20px">'
        if j == 0:
            ct += f'<td rowspan="{len(l2s)}"><span class="mn">—</span>{l1}</td>'
        ct += f'<td>{l2}</td><td>{vv}</td><td>{rr:.2f}%</td></tr>'
ct += '</table>'
conv_panel = panel_div("不同渠道搜索-交易成功转化率",
                       f'<div style="position:absolute;left:6px;top:26px;width:438px;height:184px;overflow:hidden">{ct}</div>' + vscroll(2, 50, 130),
                       448, 218)

ut = TCSS + '<table class="t" style="width:400px">' + colgroup([133, 128, 139])
ut += '<tr style="height:16px"><th>用户类型<span class="ic">⇅</span></th><th>访客数<span class="ic">▼</span></th><th>转化率(%)<span class="ic">▼</span></th></tr>'
for t, vv, rr in zip(ut_types, ut_visitors, ut_rate):
    ut += f'<tr style="height:27px"><td>{t}</td><td>{vv}</td><td>{rr:.2f}%</td></tr>'
ut += '</table>'
ut_panel = panel_div("不同用户类型搜索-交易成功转化率",
                     f'<div style="position:absolute;left:6px;top:26px;width:400px;height:92px;overflow:hidden">{ut}</div>' + vscroll(2, 45, 60),
                     413, 120)

pt = TCSS + '<table class="t" style="width:398px">' + colgroup([132, 128, 138])
pt += '<tr style="height:16px"><th>访问平台<span class="ic">⇅</span></th><th>访客数<span class="ic">▼</span></th><th>转化率(%)<span class="ic">▼</span></th></tr>'
for t, vv, rr in zip(pf_names, pf_visitors, pf_rate):
    pt += f'<tr style="height:16px"><td>{t}</td><td>{vv}</td><td>{rr:.2f}%</td></tr>'
pt += '</table>'
pf_panel = panel_div("不同平台搜索-交易成功转化率1",
                     f'<div style="position:absolute;left:6px;top:26px;width:398px;height:60px;overflow:hidden">{pt}</div>' + vscroll(2, 40, 40),
                     413, 93, head_h=22, dashed=True)

row5 = row(column(head("用户转化漏斗图", 383, 23), fn), conv_panel,
           column(ut_panel, Spacer(width=413, height=5, margin=0), pf_panel), spacing=5)

# ====================== ROW 6 ======================
ret_cols = [ret_day0, ret_m1, ret_m2, ret_m3, ret_m4, ret_m5, ret_m6, ret_m7, ret_m8]
rtb = TCSS + '<table class="t" style="width:775px">' + colgroup([77] * 10)
rtb += '<tr style="height:15px">' + ''.join(
    f'<th>{h}<span class="ic">{"⇅" if k == 0 else "▼"}</span></th>' for k, h in enumerate(ret_headers)) + '</tr>'
for r_i, coh in enumerate(ret_cohorts):
    rtb += f'<tr style="height:16.5px"><td>{coh}</td>' + ''.join(f'<td>{col[r_i]:.2f}%</td>' for col in ret_cols) + '</tr>'
rtb += '</table>'
ret_inner = (f'<div style="position:absolute;left:9px;top:30px;width:775px;height:159px;overflow:hidden">{rtb}</div>'
             '<div style="position:absolute;left:88px;top:192px;width:647px;height:3px;border-radius:2px;background:#26345f"></div>'
             + vscroll(2, 50, 90) + PAGER)
ret_panel = panel_div("用户留存率情况", ret_inner, 800, 217)

acp = mkfig(449, 194, x_range=Range1d(-0.47, len(act_months) - 0.5), y_range=Range1d(-5.9, 103.9),
            min_border_left=57, min_border_right=4, min_border_top=6, min_border_bottom=20, outline_line_color="#2b3666")
aidx = list(range(len(act_months)))
acp.line(x=aidx, y=act_rate, line_color="#4fd8e8", line_width=2)
acp.scatter(x=aidx, y=act_rate, size=6, fill_color="#4fd8e8", line_color="#4fd8e8")
txt(acp, x=aidx, y=act_rate, text=[f"{v:.2f}%" for v in act_rate], text_color="#4fd8e8",
    text_baseline="bottom", y_offset=-4, text_font_size="9px")
acp.xaxis.ticker = FixedTicker(ticks=aidx)
acp.xaxis.major_label_overrides = {i: m[:4] + "-..." for i, m in enumerate(act_months)}
acp.yaxis.ticker = FixedTicker(ticks=[0, 50, 100])
acp.yaxis.formatter = PrintfTickFormatter(format="%.2f%%")
acp.yaxis.axis_label = "活跃率"
style_axes(acp, "9px")

row6 = row(ret_panel, column(head("用户活跃率分布", 449, 23), acp), spacing=5)

# ====================== PAGE ======================
root = column(
    title_div, Spacer(width=W, height=3, margin=0), kpi_row,
    section(section_titles[0], 36), row1, desc(desc_texts[0], 32, 6),
    section(section_titles[1], 33, dashed=True), row2, desc(desc_texts[1], 32, 4),
    section(section_titles[2], 32), row3, desc(desc_texts[2], 33, 4),
    section(section_titles[3], 32), row4, desc(desc_texts[3], 36, 8),
    section(section_titles[4], 32), row5, desc(desc_texts[4], 34, 6),
    section(section_titles[5], 24), row6, desc(desc_texts[5], 18, 3),
)

html = file_html(root, INLINE, title=dashboard_title)
html = html.replace("</head>", f"<style>html,body{{background:{PAGE_BG};}}</style></head>", 1)
with open("out.html", "w", encoding="utf-8") as fh:
    fh.write(html)
